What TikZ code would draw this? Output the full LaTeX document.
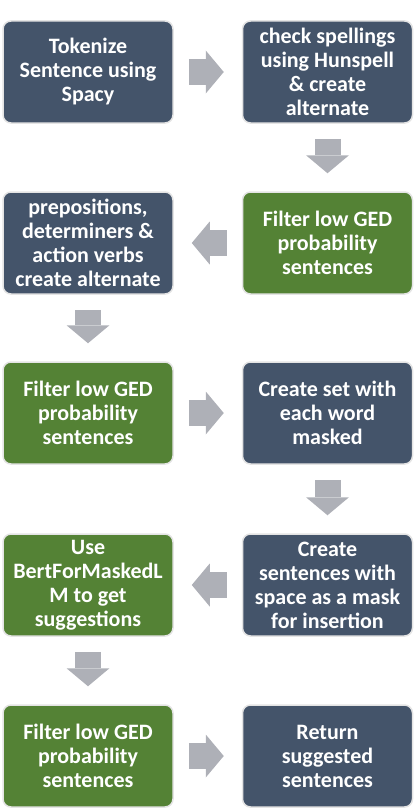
\documentclass[tikz,border=0pt]{standalone}
\usepackage{fontspec}
\setmainfont{Carlito}
\usepackage{tikz}
\usetikzlibrary{arrows.meta, shapes, positioning}
\usepackage{xcolor}
\definecolor{slateblue}{RGB}{68,84,106}
\definecolor{leafgreen}{RGB}{84,130,53}
\definecolor{arrowgray}{RGB}{174,176,183}
\definecolor{edgegray}{RGB}{228,228,228}
\tikzset{slatenode/.style={rectangle, rounded corners=8pt, fill=slateblue, draw=edgegray, line width=1.5pt, minimum width=170pt, minimum height=102pt, inner sep=0pt, text=white, align=center, font=\bfseries\fontsize{22pt}{24pt}\selectfont},
greennode/.style={slatenode, fill=leafgreen}}

\begin{document}
\begin{tikzpicture}[
                line join=miter,
                flowarrow/.style={draw=arrowgray, line width=26pt, -{Triangle[length=18pt, width=43pt, line width=0pt]}, shorten <=15pt, shorten >=18pt}
            ]
                \useasboundingbox (0pt, 0pt) rectangle (418pt, -808pt);

                % Boxes
                \node[slatenode] (tokenize) at (88pt, -72pt) {Tokenize\\Sentence using\\Spacy};
                \node[slatenode] (spelling) at (327.5pt, -72pt) {check spellings\\using Hunspell\\\& create\\alternate};
                \node[greennode] (filterone) at (327.5pt, -243pt) {Filter low GED\\probability\\sentences};
                \node[slatenode] (prepositions) at (88pt, -243pt) {prepositions,\\determiners \&\\action verbs\\create alternate};
                \node[greennode] (filtertwo) at (88pt, -413pt) {Filter low GED\\probability\\sentences};
                \node[slatenode] (maskset) at (327.5pt, -413pt) {Create set with\\each word\\masked};
                \node[slatenode] (insertion) at (327.5pt, -585pt) {Create\\sentences with\\space as a mask\\for insertion};
                \node[greennode] (bertlm) at (88pt, -585pt) {Use\\BertForMaskedL\\M to get\\suggestions};
                \node[greennode] (filterthree) at (88pt, -756pt) {Filter low GED\\probability\\sentences};
                \node[slatenode] (suggested) at (327.5pt, -756pt) {Return\\suggested\\sentences};

                % Arrows
                \draw[flowarrow] (tokenize) -- (spelling);
                \draw[flowarrow] (spelling) -- (filterone);
                \draw[flowarrow] (filterone) -- (prepositions);
                \draw[flowarrow] (prepositions) -- (filtertwo);
                \draw[flowarrow] (filtertwo) -- (maskset);
                \draw[flowarrow] (maskset) -- (insertion);
                \draw[flowarrow] (insertion) -- (bertlm);
                \draw[flowarrow] (bertlm) -- (filterthree);
                \draw[flowarrow] (filterthree) -- (suggested);
            \end{tikzpicture}
\end{document}
